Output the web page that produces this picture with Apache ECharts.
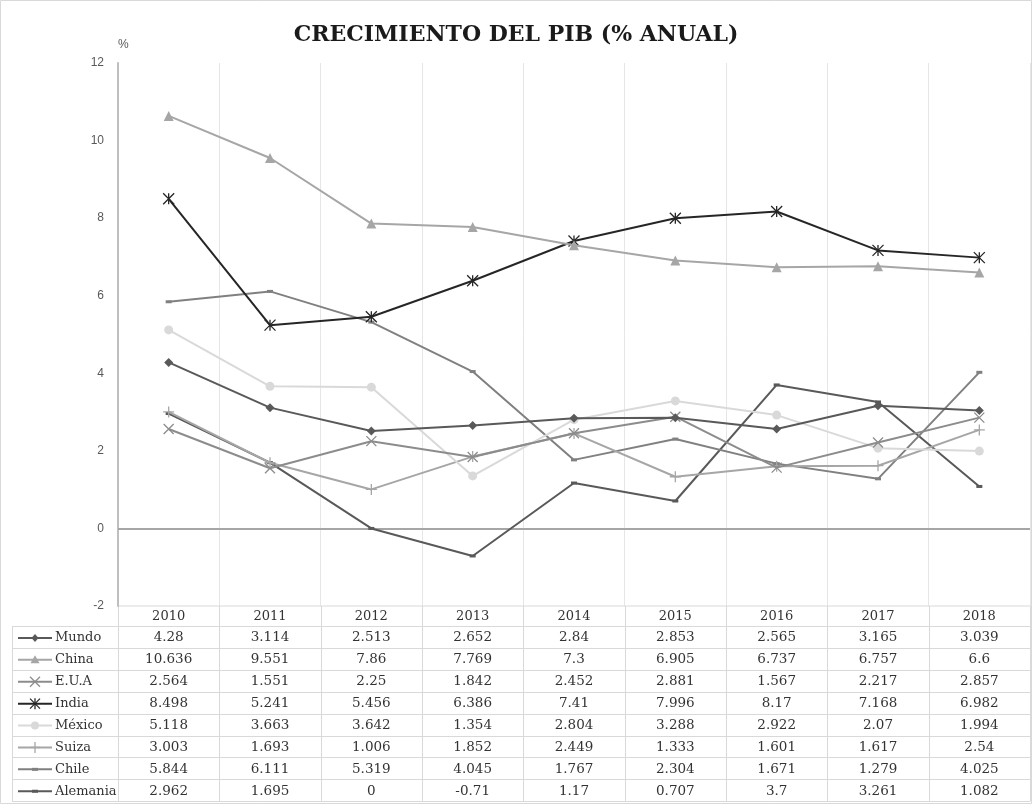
<!DOCTYPE html>
<html><head><meta charset="utf-8">
<script src="https://cdn.jsdelivr.net/npm/echarts@6/dist/echarts.min.js"></script>
<style>html,body{margin:0;padding:0;background:#fff}#c{width:1032px;height:804px}</style>
</head><body><div id="c"></div>
<script>
const years = ['2010','2011','2012','2013','2014','2015','2016','2017','2018'];
const mundo    = [4.28, 3.114, 2.513, 2.652, 2.84, 2.853, 2.565, 3.165, 3.039];
const china    = [10.636, 9.551, 7.86, 7.769, 7.3, 6.905, 6.737, 6.757, 6.6];
const eua      = [2.564, 1.551, 2.25, 1.842, 2.452, 2.881, 1.567, 2.217, 2.857];
const india    = [8.498, 5.241, 5.456, 6.386, 7.41, 7.996, 8.17, 7.168, 6.982];
const mexico   = [5.118, 3.663, 3.642, 1.354, 2.804, 3.288, 2.922, 2.07, 1.994];
const suiza    = [3.003, 1.693, 1.006, 1.852, 2.449, 1.333, 1.601, 1.617, 2.54];
const chile    = [5.844, 6.111, 5.319, 4.045, 1.767, 2.304, 1.671, 1.279, 4.025];
const alemania = [2.962, 1.695, 0, -0.71, 1.17, 0.707, 3.7, 3.261, 1.082];
const yTicks = [-2, 0, 2, 4, 6, 8, 10, 12];

const seriesDefs = [
  {name:'Mundo', data:mundo, color:'#595959', mk:'diamond'},
  {name:'China', data:china, color:'#a6a6a6', mk:'triangle'},
  {name:'E.U.A', data:eua, color:'#8c8c8c', mk:'x'},
  {name:'India', data:india, color:'#262626', mk:'star'},
  {name:'México', data:mexico, color:'#d9d9d9', mk:'circle'},
  {name:'Suiza', data:suiza, color:'#a6a6a6', mk:'plus'},
  {name:'Chile', data:chile, color:'#808080', mk:'dash'},
  {name:'Alemania', data:alemania, color:'#595959', mk:'dash'}
];
const SYM = {
  diamond: {symbol:'diamond', size:9, stroke:false},
  triangle:{symbol:'triangle', size:10, stroke:false},
  x:       {symbol:'path://M0 0L10 10M10 0L0 10', size:10, stroke:true},
  star:    {symbol:'path://M0 0L10 10M10 0L0 10M5 0L5 10', size:11, stroke:true},
  circle:  {symbol:'circle', size:9, stroke:false},
  plus:    {symbol:'path://M0 5L10 5M5 0L5 10', size:11, stroke:true},
  dash:    {symbol:'rect', size:[6,3], stroke:false}
};

const chart = echarts.init(document.getElementById('c'), null, {renderer:'canvas'});
const G = {left:118, right:2, top:63, bottom:198};
const serif = 'DejaVu Serif';

const series = seriesDefs.map((d, i) => {
  const s = SYM[d.mk];
  return {
    name: d.name, type: 'line', data: d.data, z: 10 - i,
    symbol: s.symbol, symbolSize: s.size, showSymbol: true,
    lineStyle: {color: d.color, width: 2},
    itemStyle: s.stroke ? {color: 'rgba(0,0,0,0)', borderColor: d.color, borderWidth: 1.3}
                        : {color: d.color, borderWidth: 0},
    emphasis: {disabled: true},
    animation: false,
    markLine: i === 0 ? {silent: true, symbol: ['none','none'], label:{show:false},
      lineStyle:{color:'#a6a6a6', width:2, type:'solid'}, data:[{yAxis:0}], animation:false, z:1} : undefined
  };
});

chart.setOption({
  animation: false,
  backgroundColor: '#fff',
  title: {text: 'CRECIMIENTO DEL PIB (% ANUAL)', left: 'center', top: 19,
    textStyle: {fontFamily: serif, fontWeight: 'bold', fontSize: 22, color: '#1a1a1a'}},
  grid: {left: G.left, right: G.right, top: G.top, bottom: G.bottom},
  xAxis: {type: 'category', data: years, boundaryGap: true,
    axisLine: {show: false}, axisTick: {show: false},
    axisLabel: {fontFamily: serif, fontSize: 13, color: '#333', margin: 4},
    splitLine: {show: true, lineStyle: {color: '#e6e6e6', width: 1}}},
  yAxis: {type: 'value', min: yTicks[0], max: yTicks[yTicks.length-1], interval: 2,
    name: '%', nameLocation: 'end', nameGap: 12, nameTextStyle: {fontSize: 12, color: '#595959', align: 'left'},
    axisLine: {show: true, lineStyle: {color: '#bfbfbf', width: 2}}, axisTick: {show: false},
    axisLabel: {fontFamily: 'Liberation Sans', fontSize: 12, color: '#595959', margin: 14},
    splitLine: {show: false}},
  series: series
});

// data table drawn below the plot from the arrays
const W = 1032, H = 804;
const plotBottom = H - G.bottom;
const tableTop = 626, rowH = 21.9, tableLeft = 12;
const colW = (W - G.left - G.right) / years.length;
const g = [];
const lineC = '#d9d9d9';
g.push({type:'rect', shape:{x:0.5, y:0.5, width:W-1, height:H-1}, style:{fill:'none', stroke:'#d9d9d9', lineWidth:1}, silent:true});
g.push({type:'line', shape:{x1:G.left, y1:plotBottom, x2:W-G.right, y2:plotBottom}, style:{stroke:lineC, lineWidth:1}, silent:true});
for (let r = 0; r <= seriesDefs.length; r++) {
  const y = Math.round(tableTop + r*rowH) + 0.5;
  g.push({type:'line', shape:{x1:tableLeft, y1:y, x2:W-G.right, y2:y}, style:{stroke:lineC, lineWidth:1}, silent:true});
}
const tableBottom = Math.round(tableTop + seriesDefs.length*rowH) + 0.5;
g.push({type:'line', shape:{x1:tableLeft+0.5, y1:tableTop, x2:tableLeft+0.5, y2:tableBottom}, style:{stroke:lineC, lineWidth:1}, silent:true});
for (let k = 0; k <= years.length; k++) {
  const x = Math.round(G.left + k*colW) + 0.5;
  g.push({type:'line', shape:{x1:x, y1:plotBottom, x2:x, y2:tableBottom}, style:{stroke:lineC, lineWidth:1}, silent:true});
}

function legendMarker(mk, cx, cy, c) {
  const st = {stroke:c, lineWidth:1.3, fill:'none'};
  const fl = {fill:c};
  switch (mk) {
    case 'diamond': return [{type:'polygon', shape:{points:[[cx,cy-4],[cx+3.5,cy],[cx,cy+4],[cx-3.5,cy]]}, style:fl}];
    case 'triangle': return [{type:'polygon', shape:{points:[[cx,cy-4.5],[cx+4.5,cy+3.5],[cx-4.5,cy+3.5]]}, style:fl}];
    case 'circle': return [{type:'circle', shape:{cx:cx, cy:cy, r:4}, style:fl}];
    case 'x': return [{type:'line', shape:{x1:cx-5,y1:cy-5,x2:cx+5,y2:cy+5}, style:st},
                      {type:'line', shape:{x1:cx+5,y1:cy-5,x2:cx-5,y2:cy+5}, style:st}];
    case 'star': return [{type:'line', shape:{x1:cx-5,y1:cy-5,x2:cx+5,y2:cy+5}, style:st},
                         {type:'line', shape:{x1:cx+5,y1:cy-5,x2:cx-5,y2:cy+5}, style:st},
                         {type:'line', shape:{x1:cx,y1:cy-5.5,x2:cx,y2:cy+5.5}, style:st}];
    case 'plus': return [{type:'line', shape:{x1:cx-5,y1:cy,x2:cx+5,y2:cy}, style:st},
                         {type:'line', shape:{x1:cx,y1:cy-5.5,x2:cx,y2:cy+5.5}, style:st}];
    case 'dash': return [{type:'rect', shape:{x:cx-3, y:cy-1.5, width:6, height:3}, style:fl}];
  }
  return [];
}

seriesDefs.forEach((d, r) => {
  const y = tableTop + r*rowH + rowH/2 + 1;
  // legend cell
  g.push({type:'line', silent:true, shape:{x1:18, y1:y, x2:52, y2:y}, style:{stroke:d.color, lineWidth:2}});
  legendMarker(d.mk, 35, y, d.color).forEach(m => { m.silent = true; m.z = 101; g.push(m); });
  g.push({type:'text', x: 55, y: y, silent:true,
    style:{text: d.name, fontFamily: serif, fontSize: 13, fill:'#333', align:'left', verticalAlign:'middle'}});
  d.data.forEach((v, k) => {
    const x = chart.convertToPixel({xAxisIndex:0}, k);
    g.push({type:'text', x: x, y: y, silent:true,
      style:{text: String(v), fontFamily: serif, fontSize: 13.5, fill:'#333', align:'center', verticalAlign:'middle'}});
  });
});
chart.setOption({graphic: g});
</script></body></html>
